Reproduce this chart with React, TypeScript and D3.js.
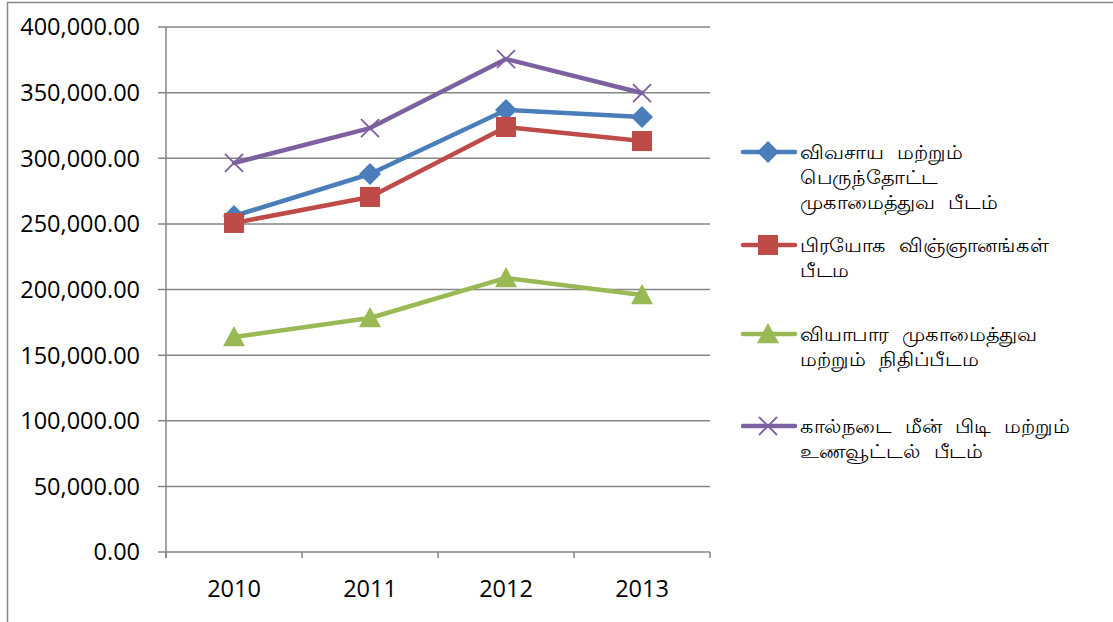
import React from "react";
import * as d3 from "d3";

const categories = ["2010", "2011", "2012", "2013"];
const seriesNames = [
  ["விவசாய மற்றும்", "பெருந்தோட்ட", "முகாமைத்துவ பீடம்"],
  ["பிரயோக விஞ்ஞானங்கள்", "பீடம"],
  ["வியாபார முகாமைத்துவ", "மற்றும் நிதிப்பீடம"],
  ["கால்நடை மீன் பிடி மற்றும்", "உணவூட்டல் பீடம்"],
];
const agriculture = [256000, 288000, 336800, 331400];
const appliedSci = [250700, 270500, 323800, 313100];
const business = [163800, 178300, 208800, 195800];
const livestock = [296400, 323000, 375600, 349700];
const yTicks = [0, 50000, 100000, 150000, 200000, 250000, 300000, 350000, 400000];

const series = [
  { values: agriculture, color: "#4A7EBB", marker: "diamond" },
  { values: appliedSci, color: "#BE4B48", marker: "square" },
  { values: business, color: "#98B954", marker: "triangle" },
  { values: livestock, color: "#7D60A0", marker: "x" },
];

const W = 1113, H = 622;
const left = 166, right = 710, top = 27, bottom = 552;

function Marker({ type, cx, cy, color }: { type: string; cx: number; cy: number; color: string }) {
  if (type === "diamond") {
    const s = 11;
    return <path d={`M${cx},${cy - s}L${cx + s},${cy}L${cx},${cy + s}L${cx - s},${cy}Z`} fill={color} />;
  }
  if (type === "square") {
    const s = 10;
    return <rect x={cx - s} y={cy - s} width={2 * s} height={2 * s} fill={color} />;
  }
  if (type === "triangle") {
    const s = 11;
    return <path d={`M${cx},${cy - s}L${cx + s},${cy + s * 0.85}L${cx - s},${cy + s * 0.85}Z`} fill={color} />;
  }
  const s = 9;
  return (
    <path d={`M${cx - s},${cy - s}L${cx + s},${cy + s}M${cx - s},${cy + s}L${cx + s},${cy - s}`} stroke={color} strokeWidth={1.8} fill="none" />
  );
}

export default function App() {
  const x = d3.scaleBand().domain(categories).range([left, right]);
  const y = d3.scaleLinear().domain([0, 400000]).range([bottom, top]);
  const fmt = d3.format(",.2f");
  const line = d3
    .line<number>()
    .x((_, i) => (x(categories[i]) as number) + x.bandwidth() / 2)
    .y((v) => y(v));
  const font = "'Open Sans', sans-serif";
  const legendFont = "Lato, 'Open Sans', sans-serif";
  const legendY = [152, 245, 334, 426];
  const boundaries = categories.map((c) => x(c) as number).concat([right]);

  return (
    <svg width={W} height={H} style={{ position: "absolute", left: 0, top: 0 }}>
      <rect x={0} y={0} width={W} height={H} fill="#fff" />
      <path d={`M7.5,${H}V2.5H${W}`} stroke="#868686" strokeWidth={1.5} fill="none" />
      {yTicks.map((t) => (
        <g key={t}>
          <line x1={158} x2={right} y1={y(t)} y2={y(t)} stroke="#868686" strokeWidth={1.5} />
          <text x={140} y={y(t)} dy="0.36em" textAnchor="end" fontFamily={font} fontSize={23.5} fill="#000">
            {fmt(t)}
          </text>
        </g>
      ))}
      <line x1={left} x2={left} y1={top} y2={bottom + 6} stroke="#868686" strokeWidth={1.5} />
      {boundaries.map((b, i) => (
        <line key={i} x1={b} x2={b} y1={bottom} y2={bottom + 6} stroke="#868686" strokeWidth={1.5} />
      ))}
      {categories.map((c) => (
        <text key={c} x={(x(c) as number) + x.bandwidth() / 2} y={597} textAnchor="middle" fontFamily={font} fontSize={23.5} fill="#000">
          {c}
        </text>
      ))}
      {series.map((s, si) => (
        <g key={si}>
          <path d={line(s.values) as string} stroke={s.color} strokeWidth={4.5} fill="none" strokeLinejoin="round" strokeLinecap="round" />
          {s.values.map((v, i) => (
            <Marker key={i} type={s.marker} cx={(x(categories[i]) as number) + x.bandwidth() / 2} cy={y(v)} color={s.color} />
          ))}
        </g>
      ))}
      {series.map((s, si) => (
        <g key={"l" + si}>
          <line x1={743} x2={795} y1={legendY[si]} y2={legendY[si]} stroke={s.color} strokeWidth={4.5} strokeLinecap="round" />
          <Marker type={s.marker} cx={768} cy={legendY[si]} color={s.color} />
          {seriesNames[si].map((ln, li) => (
            <text
              key={li}
              x={0}
              y={0}
              transform={`translate(800,${legendY[si] + 7 + li * 25}) scale(1.1,1)`}
              fontFamily={legendFont}
              fontSize={19}
              fill="#000"
            >
              {ln.split(" ").map((w, wi) => (
                <tspan key={wi} dx={wi === 0 ? 0 : 12}>
                  {w}
                </tspan>
              ))}
            </text>
          ))}
        </g>
      ))}
    </svg>
  );
}
